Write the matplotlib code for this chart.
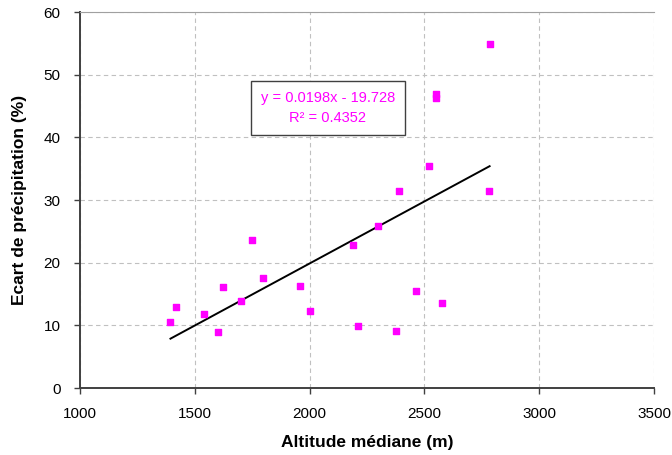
import numpy as np
import matplotlib
matplotlib.use("Agg")
import matplotlib.pyplot as plt

plt.rcParams['font.family'] = ['Liberation Sans', 'DejaVu Sans']

# altitude médiane (m) and écart de précipitation (%)
altitude = [1394, 1418, 1541, 1603, 1621, 1700, 1750, 1799, 1959, 2000, 2190,
            2209, 2299, 2375, 2388, 2463, 2519, 2549, 2549, 2576, 2780, 2784]
ecart = [10.5, 12.9, 11.8, 8.95, 16.1, 13.85, 23.6, 17.5, 16.25, 12.3, 22.85,
         9.9, 25.8, 9.06, 31.5, 15.5, 35.4, 46.9, 46.2, 13.6, 31.5, 54.9]

# linear trend shown in the chart
slope = 0.0198
intercept = -19.728
r2 = 0.4352

x_ticks = [1000, 1500, 2000, 2500, 3000, 3500]
y_ticks = [0, 10, 20, 30, 40, 50, 60]

fig = plt.figure(figsize=(6.72, 4.55), dpi=100)
ax = fig.add_axes([80 / 672, 1 - 388 / 455, 574 / 672, 376 / 455])

ax.grid(True, color='#c0c0c0', linestyle=(0, (4, 3)), linewidth=0.8)
ax.set_axisbelow(True)

ax.scatter(altitude, ecart, marker='s', s=22, color='#ff00ff', zorder=3)

xs = np.array([min(altitude), max(altitude)])
ax.plot(xs, slope * xs + intercept, color='black', linewidth=1.4, zorder=2)

ax.set_xlim(1000, 3500)
ax.set_ylim(0, 60)
ax.set_xticks(x_ticks)
ax.set_yticks(y_ticks)
ax.tick_params(direction='out', length=4, width=1, color='#404040',
               labelsize=11, pad=3)
ax.tick_params(axis='x', pad=10)
ax.tick_params(axis='y', pad=10)

for side in ['left', 'bottom']:
    ax.spines[side].set_color('#404040')
    ax.spines[side].set_linewidth(1.4)
ax.spines['right'].set_visible(False)
ax.spines['top'].set_color('#a0a0a0')
ax.spines['top'].set_linewidth(0.8)

ax.set_xlabel('Altitude médiane (m)', fontsize=12.5, fontweight='bold', labelpad=10)
ax.set_ylabel('Ecart de précipitation (%)', fontsize=12.5, fontweight='bold', labelpad=12)

label = f'y = {slope}x - {abs(intercept)}\nR² = {r2}'
ax.text(0.432, 0.745, label, transform=ax.transAxes, ha='center', va='center',
        color='#ff00ff', fontsize=10.5, linespacing=1.5,
        bbox=dict(boxstyle='square,pad=0.7', facecolor='white',
                  edgecolor='#404040', linewidth=1), zorder=4)

fig.savefig('out.png', dpi=100)
